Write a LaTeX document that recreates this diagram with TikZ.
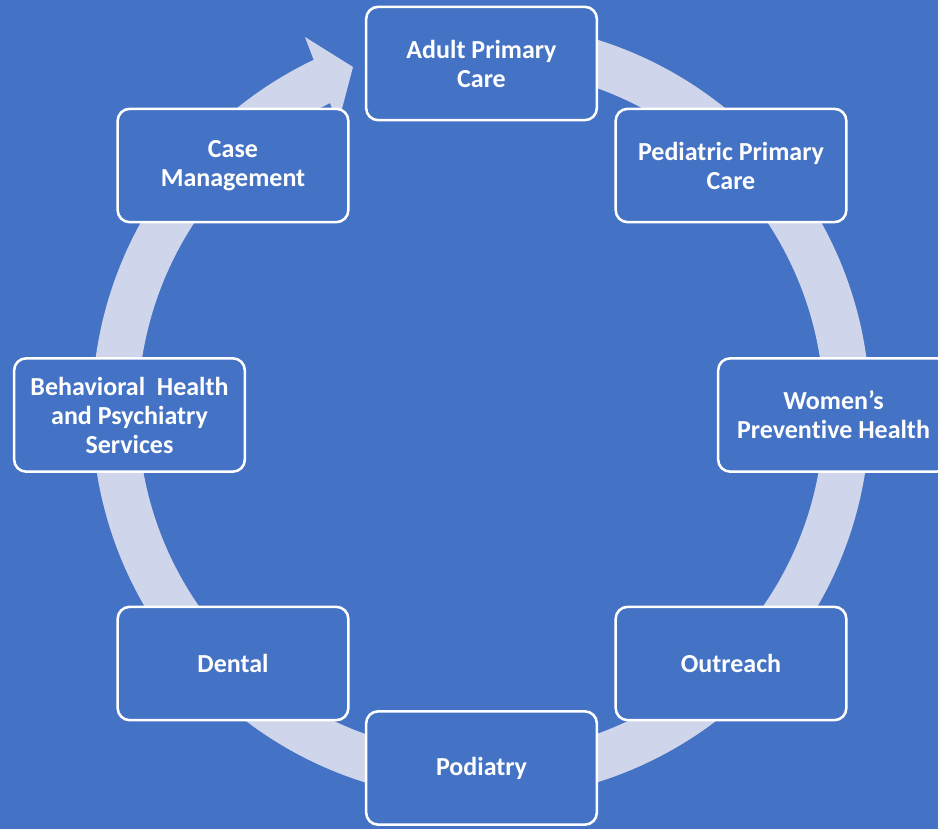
\documentclass[tikz,border=0pt]{standalone}
\usepackage{fontspec}
\setmainfont{Carlito}[Ligatures=NoCommon,RawFeature={-liga;-dlig;-clig}]
\definecolor{bg}{HTML}{4472C4}
\definecolor{ringc}{HTML}{CFD5EA}
\begin{document}
\begin{tikzpicture}[x=0.75pt,y=0.75pt,
  box/.style={draw=white, line width=1.9pt, fill=bg, rounded corners=9pt,
    minimum width=173pt, minimum height=85pt, align=center, text=white,
    font=\fontsize{19.5}{21.75}\selectfont\bfseries, inner sep=0pt}]
\useasboundingbox (0,0) rectangle (938,829);
\fill[bg] (0,0) rectangle (938,829);
\clip (0,0) rectangle (938,829);
\coordinate (C) at (481,418);
\coordinate (hout) at (305,792);
\coordinate (htip) at (353,762);
\coordinate (hin) at (338,705);
\draw[ringc, line width=34.5pt] (C) ++(85:366) arc[start angle=85, end angle=-244.7, radius=366];
\fill[ringc] (hout) -- (htip) -- (hin) -- cycle;
\node[box] (adult) at (481.5,765.5) {Adult Primary\\Care};
\node[box] (ped) at (731,663.5) {Pediatric Primary\\Care};
\node[box] (women) at (833.5,414) {Women’s\\Preven\kern0pt tive Health};
\node[box] (out) at (731,165.5) {Outreach};
\node[box] (pod) at (481.5,61) {Podiatry};
\node[box] (dental) at (233,165.5) {Dental};
\node[box] (behav) at (129.5,414) {Behavioral\hspace{0.45em}Health\\and Psychiatry\\Services};
\node[box] (case) at (233,663.5) {Case\\Management};
\end{tikzpicture}
\end{document}
